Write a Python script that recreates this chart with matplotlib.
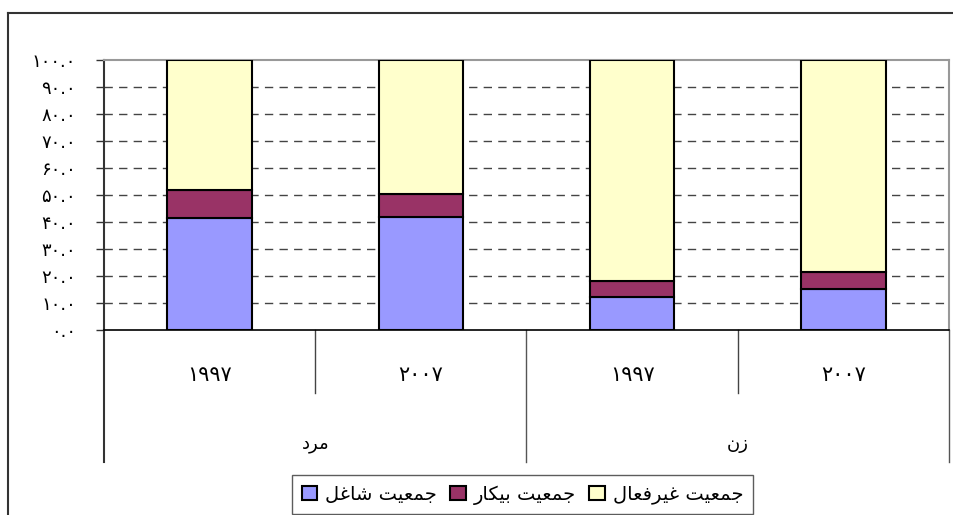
import matplotlib
matplotlib.use("Agg")
import matplotlib.pyplot as plt
from matplotlib.patches import Patch
from matplotlib.lines import Line2D
import numpy as np

# ---------------- data ----------------
groups = ["مرد", "زن"]
years = ["۱۹۹۷", "۲۰۰۷", "۱۹۹۷", "۲۰۰۷"]
employed = [41.5, 42.0, 12.2, 15.3]      # جمعیت شاغل
unemployed = [10.4, 8.5, 5.9, 6.1]       # جمعیت بیکار
inactive = [48.1, 49.5, 81.9, 78.6]      # جمعیت غیرفعال
series_names = ["جمعیت شاغل", "جمعیت بیکار", "جمعیت غیرفعال"]
yticks = [0, 10, 20, 30, 40, 50, 60, 70, 80, 90, 100]
ytick_labels = ["۰.۰", "۱۰.۰", "۲۰.۰", "۳۰.۰", "۴۰.۰", "۵۰.۰",
                "۶۰.۰", "۷۰.۰", "۸۰.۰", "۹۰.۰", "۱۰۰.۰"]
colors = ["#9999FF", "#993366", "#FFFFCC"]

# ------------- minimal Persian shaping -------------
FORMS = {
    'ا': ('\uFE8D', '\uFE8E', None, None),
    'ب': ('\uFE8F', '\uFE90', '\uFE91', '\uFE92'),
    'ت': ('\uFE95', '\uFE96', '\uFE97', '\uFE98'),
    'ج': ('\uFE9D', '\uFE9E', '\uFE9F', '\uFEA0'),
    'د': ('\uFEA9', '\uFEAA', None, None),
    'ر': ('\uFEAD', '\uFEAE', None, None),
    'ز': ('\uFEAF', '\uFEB0', None, None),
    'ش': ('\uFEB5', '\uFEB6', '\uFEB7', '\uFEB8'),
    'ع': ('\uFEC9', '\uFECA', '\uFECB', '\uFECC'),
    'غ': ('\uFECD', '\uFECE', '\uFECF', '\uFED0'),
    'ف': ('\uFED1', '\uFED2', '\uFED3', '\uFED4'),
    'ک': ('\uFB8E', '\uFB8F', '\uFB90', '\uFB91'),
    'ل': ('\uFEDD', '\uFEDE', '\uFEDF', '\uFEE0'),
    'م': ('\uFEE1', '\uFEE2', '\uFEE3', '\uFEE4'),
    'ن': ('\uFEE5', '\uFEE6', '\uFEE7', '\uFEE8'),
    'ی': ('\uFBFC', '\uFBFD', '\uFBFE', '\uFBFF'),
}


def shape(text):
    out = []
    n = len(text)
    for i, ch in enumerate(text):
        if ch not in FORMS:
            out.append(ch)
            continue
        prev = text[i - 1] if i > 0 else None
        nxt = text[i + 1] if i < n - 1 else None
        jp = prev in FORMS and FORMS[prev][2] is not None
        jn = nxt in FORMS and FORMS[ch][2] is not None
        iso, fin, ini, med = FORMS[ch]
        if jp and jn:
            out.append(med)
        elif jp:
            out.append(fin)
        elif jn:
            out.append(ini)
        else:
            out.append(iso)
    return "".join(out)[::-1]


plt.rcParams['font.family'] = ['DejaVu Sans']

W, H = 954, 515
fig = plt.figure(figsize=(W / 100, H / 100), dpi=100)

# plot area in pixels
L, R, T, B = 104, 949, 60, 330
ax = fig.add_axes([L / W, 1 - B / H, (R - L) / W, (B - T) / H])

x = np.arange(len(years))
bw = 0.4
ax.bar(x, employed, bw, color=colors[0], edgecolor="black", linewidth=1.5, zorder=3)
ax.bar(x, unemployed, bw, bottom=employed, color=colors[1], edgecolor="black",
       linewidth=1.5, zorder=3)
bot2 = [a + b for a, b in zip(employed, unemployed)]
ax.bar(x, inactive, bw, bottom=bot2, color=colors[2], edgecolor="black",
       linewidth=1.5, zorder=3)

ax.set_xlim(-0.5, len(years) - 0.5)
ax.set_ylim(0, 100)
ax.set_yticks(yticks)
ax.set_yticklabels(ytick_labels, fontsize=13)
ax.tick_params(axis='y', length=6, width=1, pad=14, color="#333333", direction='out')
ax.set_xticks([])

for v in yticks[1:-1]:
    ax.axhline(v, color="#444444", linewidth=1, linestyle=(0, (6, 4.5)), zorder=1)

for s in ["top", "right"]:
    ax.spines[s].set_color("#999999")
    ax.spines[s].set_linewidth(1.5)
ax.spines["left"].set_color("#333333")
ax.spines["left"].set_linewidth(1.5)
ax.spines["bottom"].set_color("black")
ax.spines["bottom"].set_linewidth(1.2)

# category axis (two levels)
ph = B - T
y_year = -45 / ph
y_group = -114 / ph
y_short = -63 / ph
y_long = -132 / ph
trans = ax.get_xaxis_transform()
for i, yl in enumerate(years):
    ax.text(i, y_year, yl, transform=trans, ha="center", va="center", fontsize=15)
for g, name in enumerate(groups):
    ax.text(2 * g + 0.5, y_group, shape(name), transform=trans, ha="center",
            va="center", fontsize=13)
for xb in [0.5, 2.5]:
    ax.add_line(Line2D([xb, xb], [0, y_short], transform=trans, color="#444444",
                       linewidth=1, clip_on=False))
for xb in [-0.5, 1.5, 3.5]:
    ax.add_line(Line2D([xb, xb], [0, y_long], transform=trans,
                       color="#333333" if xb == -0.5 else "#555555",
                       linewidth=1.5 if xb == -0.5 else 1, clip_on=False))

# outer frame
fl, ft = 8 / W, 1 - 13 / H
fig.add_artist(Line2D([fl, fl], [0, ft], transform=fig.transFigure, color="#333333", linewidth=1.5))
fig.add_artist(Line2D([fl, 1], [ft, ft], transform=fig.transFigure, color="#333333", linewidth=1.5))

# legend
handles = [Patch(facecolor=c, edgecolor="black", linewidth=1.5) for c in colors]
leg = fig.legend(handles, [shape(s) for s in series_names], ncol=3,
                 loc="upper left", bbox_to_anchor=(292 / W, 1 - 475 / H),
                 borderaxespad=0, frameon=True, fancybox=False, fontsize=14,
                 handlelength=0.8, handleheight=0.8, handletextpad=0.4,
                 columnspacing=0.7, borderpad=0.5)
leg.get_frame().set_edgecolor("#333333")
leg.get_frame().set_linewidth(1)

fig.savefig("out.png", dpi=100)
